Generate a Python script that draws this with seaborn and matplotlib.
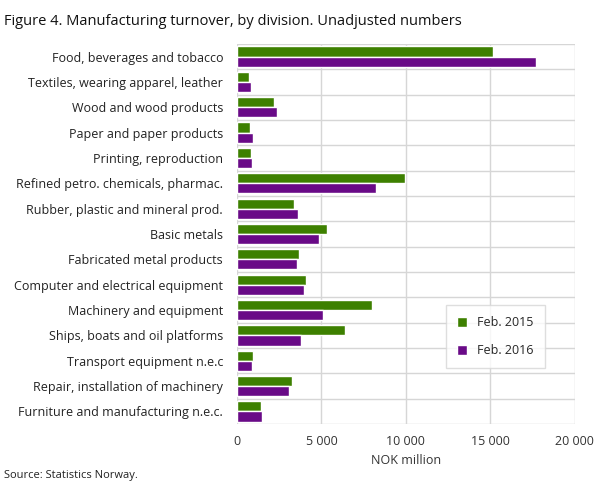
import matplotlib
matplotlib.use("Agg")
import matplotlib.pyplot as plt
import seaborn as sns
import pandas as pd
import numpy as np

categories = ["Food, beverages and tobacco", "Textiles, wearing apparel, leather",
              "Wood and wood products", "Paper and paper products", "Printing, reproduction",
              "Refined petro. chemicals, pharmac.", "Rubber, plastic and mineral prod.",
              "Basic metals", "Fabricated metal products", "Computer and electrical equipment",
              "Machinery and equipment", "Ships, boats and oil platforms",
              "Transport equipment n.e.c", "Repair, installation of machinery",
              "Furniture and manufacturing n.e.c."]
feb2015 = [15150, 700, 2200, 750, 810, 9920, 3370, 5340, 3660, 4060, 8000, 6380, 930, 3250, 1450]
feb2016 = [17700, 810, 2380, 930, 870, 8240, 3600, 4870, 3540, 3950, 5100, 3770, 870, 3080, 1500]
series = ["Feb. 2015", "Feb. 2016"]
xticks = [0, 5000, 10000, 15000, 20000]
xticklabels = ["0", "5 000", "10 000", "15 000", "20 000"]

df = pd.DataFrame({"Division": categories * 2,
                   "Value": feb2015 + feb2016,
                   "Series": [series[0]] * len(categories) + [series[1]] * len(categories)})

sns.set_theme(style="white")
plt.rcParams['font.family'] = ['Open Sans', 'DejaVu Sans']

fig = plt.figure(figsize=(6.09, 4.88), dpi=100)
ax = fig.add_axes([0.389, 0.131, 0.555, 0.779])
sns.barplot(data=df, y="Division", x="Value", hue="Series", orient="h",
            palette=["#3d8000", "#690a87"], width=0.8, saturation=1, ax=ax)

ax.set_xlim(0, 20000)
ax.set_ylim(len(categories) - 0.5, -0.5)
ax.set_xticks(xticks)
ax.set_xticklabels(xticklabels, fontsize=9, color="#333333")
ax.tick_params(axis="y", labelsize=9, colors="#222222", length=0, pad=10)
ax.tick_params(axis="x", length=0, pad=8)
for x in xticks:
    ax.axvline(x, color="#d6d6d6", lw=1, zorder=0)
for y in np.arange(-0.5, len(categories), 1):
    ax.axhline(y, color="#d6d6d6", lw=1, zorder=0)
for s in ax.spines.values():
    s.set_visible(False)
ax.set_ylabel("")
ax.set_xlabel("NOK million", fontsize=9, color="#333333")

leg = ax.legend(loc="lower right", bbox_to_anchor=(0.93, 0.13), fontsize=9,
                frameon=True, fancybox=False, edgecolor="#d6d6d6",
                handlelength=0.8, handleheight=0.8, labelspacing=1.2,
                borderpad=0.9, title=None)

fig.text(0.007, 0.955, "Figure 4. Manufacturing turnover, by division. Unadjusted numbers",
         fontsize=10.5, color="#111111", va="center")
fig.text(0.007, 0.02, "Source: Statistics Norway.", fontsize=8, color="#222222")

fig.savefig("out.png", dpi=100)
